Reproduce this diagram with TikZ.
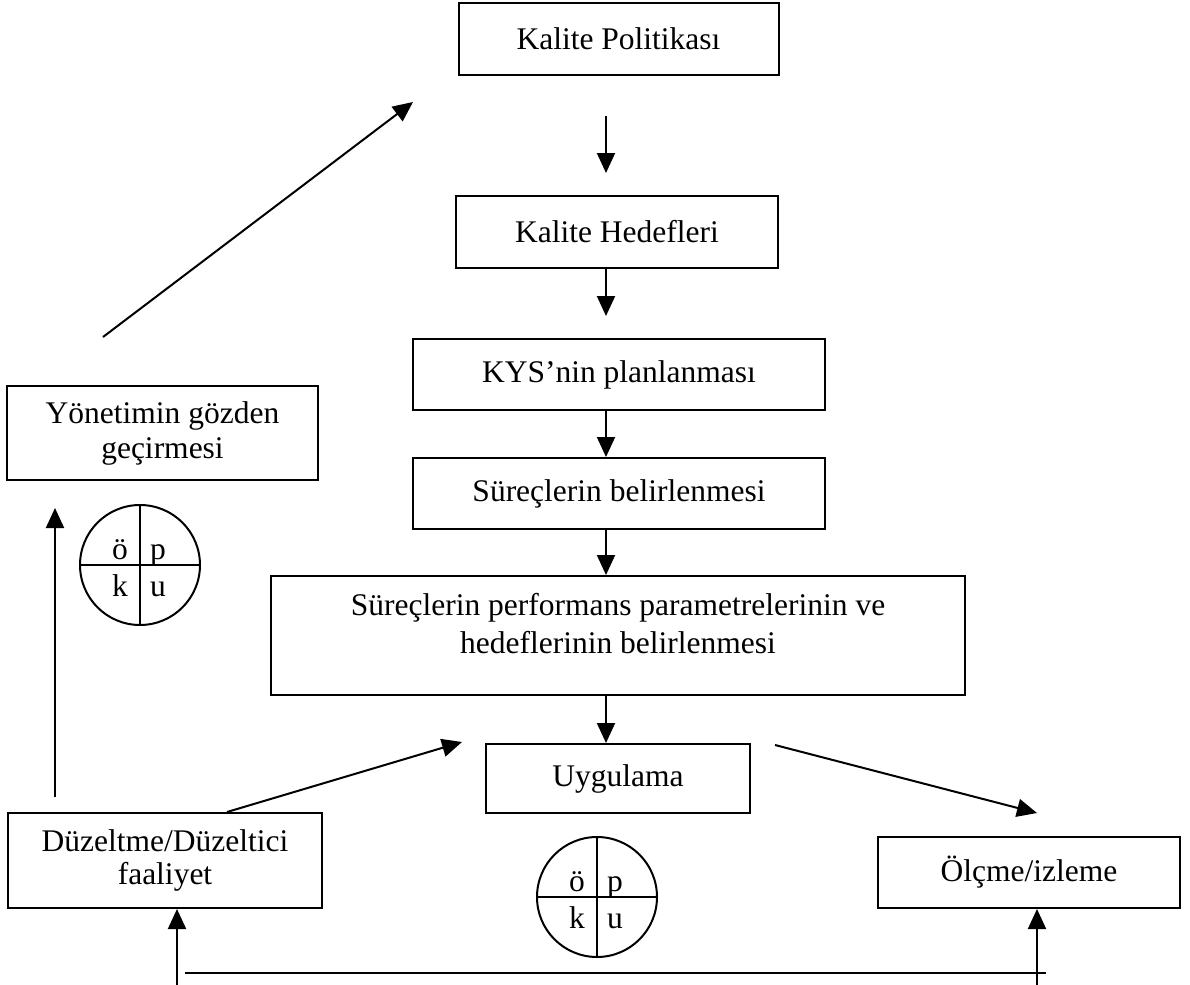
\documentclass[tikz,border=0pt]{standalone}
\usepackage{fontspec}
\setmainfont{Liberation Serif}
\usetikzlibrary{arrows.meta,calc}
\begin{document}
\begin{tikzpicture}[x=0.5pt,y=-0.5pt,
  every node/.style={font=\fontsize{15.75}{17.5}\selectfont},
  box/.style={draw, line width=1pt, inner sep=0pt, align=center},
  arr/.style={line width=1pt, -{Triangle[length=10pt,width=9pt]}},
  ln/.style={line width=1pt},
  ring/.style={draw, circle, line width=1pt, minimum size=60pt, inner sep=0pt},
  letter/.style={anchor=base, inner sep=0pt}]
\useasboundingbox (0,0) rectangle (1190,985);

% main column
\node[box, minimum width=160pt, minimum height=36pt] (kp) at (618.5,39) {Kalite Politikası};
\node[box, minimum width=161pt, minimum height=36pt] (kh) at (617,232) {Kalite Hedefleri};
\node[box, minimum width=206pt, minimum height=35.5pt] (kys) at (619,374.5) {KYS’nin planlanması};
\node[box, minimum width=206pt, minimum height=35.5pt] (sb) at (619,493.5) {Süreçlerin belirlenmesi};
\node[box] (perf) at (618,635.5) {\parbox[c][59.5pt][t]{347pt}{\fontsize{15.75}{19}\selectfont\centering\rule{0pt}{19.5pt}Süreçlerin performans parametrelerinin ve\\ hedeflerinin belirlenmesi}};
\node[box, minimum width=132pt, minimum height=34.5pt] (uyg) at (618,778.5) {Uygulama};

% side boxes
\node[box, minimum width=155.5pt, minimum height=47pt] (yon) at (162.5,433) {Yönetimin gözden\\ geçirmesi};
\node[box, minimum width=157pt, minimum height=47.5pt, font=\fontsize{15.75}{16.5}\selectfont] (duz) at (165,860.5) {Düzeltme/Düzeltici\\ faaliyet};
\node[box, minimum width=151pt, minimum height=35.5pt] (olc) at (1029,872.5) {Ölçme/izleme};

% cycle circles
\node[ring] (c1) at (140,565) {};
\draw[ln] (c1.north) -- (c1.south);
\draw[ln] (c1.west) -- (c1.east);
\node[letter] (c1o) at ([shift={(-20,-6)}]c1.center) {ö};
\node[letter] (c1p) at ([shift={(18,-6)}]c1.center) {p};
\node[letter] (c1k) at ([shift={(-20,31)}]c1.center) {k};
\node[letter] (c1u) at ([shift={(18,31)}]c1.center) {u};

\node[ring] (c2) at (597,897) {};
\draw[ln] (c2.north) -- (c2.south);
\draw[ln] (c2.west) -- (c2.east);
\node[letter] (c2o) at ([shift={(-20,-6)}]c2.center) {ö};
\node[letter] (c2p) at ([shift={(18,-6)}]c2.center) {p};
\node[letter] (c2k) at ([shift={(-20,31)}]c2.center) {k};
\node[letter] (c2u) at ([shift={(18,31)}]c2.center) {u};

% free ends of connectors
\coordinate (axis) at (606,0);
\coordinate (revS) at (103,337);
\coordinate (revE) at (413,102);
\coordinate (upS) at (55,797);
\coordinate (upE) at (55,508);
\coordinate (corE) at (462,742);
\coordinate (msS) at (775,745);
\coordinate (msE) at (1037,813);
\coordinate (botL) at (177,985);
\coordinate (botR) at (1037,985);
\coordinate (hL) at (185,973);
\coordinate (hR) at (1046,973);

% connectors
\draw[arr] ([yshift=-20pt]kp.south -| axis) -- ([yshift=11pt]kh.north -| axis);
\draw[arr] (kh.south -| axis) -- ([yshift=11pt]kys.north -| axis);
\draw[arr] (kys.south -| axis) -- (sb.north -| axis);
\draw[arr] (sb.south -| axis) -- (perf.north -| axis);
\draw[arr] (perf.south -| axis) -- (uyg.north -| axis);
\draw[arr] (revS) -- (revE);
\draw[arr] (upS) -- (upE);
\draw[arr] ([xshift=31pt]duz.north) -- (corE);
\draw[arr] (msS) -- (msE);
\draw[arr] (botL) -- (botL |- duz.south);
\draw[arr] (botR) -- (botR |- olc.south);
\draw[ln] (hL) -- (hR);
\end{tikzpicture}
\end{document}
